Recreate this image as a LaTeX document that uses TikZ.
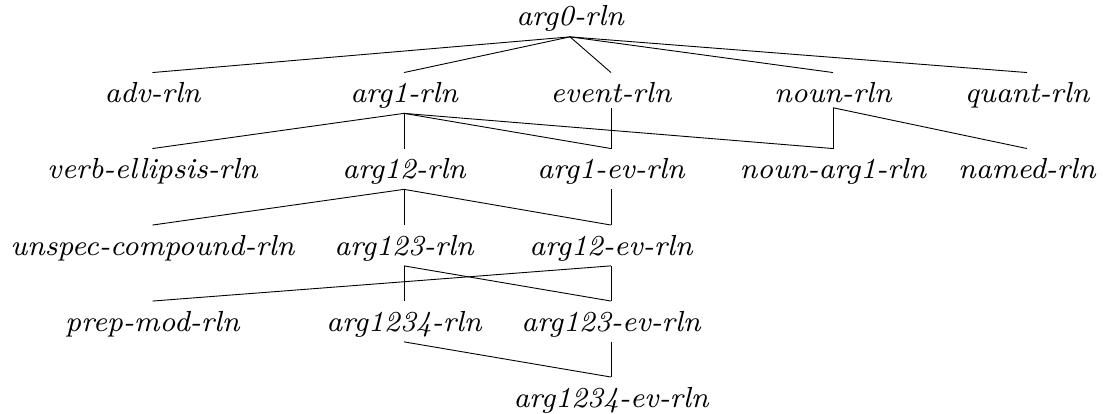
\documentclass[tikz,border=0pt]{standalone}
\usepackage{fontspec}
\newfontfamily\lmeightit{lmroman8-italic.otf}
\begin{document}
\begin{tikzpicture}[x=1pt,y=-1pt,
  tn/.style={inner xsep=0pt, inner ysep=4.5pt, text height=25pt, anchor=base,
    font=\lmeightit\fontsize{29}{35}\selectfont},
  every path/.style={line width=0.9pt}]
\useasboundingbox (0,0) rectangle (1103,414);
\def\ra{26}\def\rb{102.5}\def\rc{178.5}\def\rd{255}\def\re{331}\def\rf{407}
\node[tn] (arg0) at (570,\ra) {arg0-rln};
\node[tn] (adv) at (152.5,\rb) {adv-rln};
\node[tn] (arg1) at (404,\rb) {arg1-rln};
\node[tn] (event) at (611,\rb) {event-rln};
\node[tn] (noun) at (833,\rb) {noun-rln};
\node[tn] (quant) at (1027,\rb) {quant-rln};
\node[tn] (verb) at (152.5,\rc) {verb-ellipsis-rln};
\node[tn] (arg12) at (404,\rc) {arg12-rln};
\node[tn] (arg1ev) at (611,\rc) {arg1-ev-rln};
\node[tn] (nounarg1) at (833,\rc) {noun-arg1-rln};
\node[tn] (named) at (1027,\rc) {named-rln};
\node[tn] (unspec) at (152.5,\rd) {unspec-compound-rln};
\node[tn] (arg123) at (404,\rd) {arg123-rln};
\node[tn] (arg12ev) at (611,\rd) {arg12-ev-rln};
\node[tn] (prepmod) at (152.5,\re) {prep-mod-rln};
\node[tn] (arg1234) at (404,\re) {arg1234-rln};
\node[tn] (arg123ev) at (611,\re) {arg123-ev-rln};
\node[tn] (arg1234ev) at (611,\rf) {arg1234-ev-rln};
\foreach \c in {adv,arg1,event,noun,quant} \draw (arg0.south) -- (\c.north);
\foreach \c in {verb,arg12,arg1ev,nounarg1} \draw (arg1.south) -- (\c.north);
\draw (event.south) -- (arg1ev.north);
\foreach \c in {nounarg1,named} \draw (noun.south) -- (\c.north);
\foreach \c in {unspec,arg123,arg12ev} \draw (arg12.south) -- (\c.north);
\draw (arg1ev.south) -- (arg12ev.north);
\foreach \c in {prepmod,arg123ev} \draw (arg12ev.south) -- (\c.north);
\foreach \c in {arg1234,arg123ev} \draw (arg123.south) -- (\c.north);
\draw (arg1234.south) -- (arg1234ev.north);
\draw (arg123ev.south) -- (arg1234ev.north);
\end{tikzpicture}
\end{document}
